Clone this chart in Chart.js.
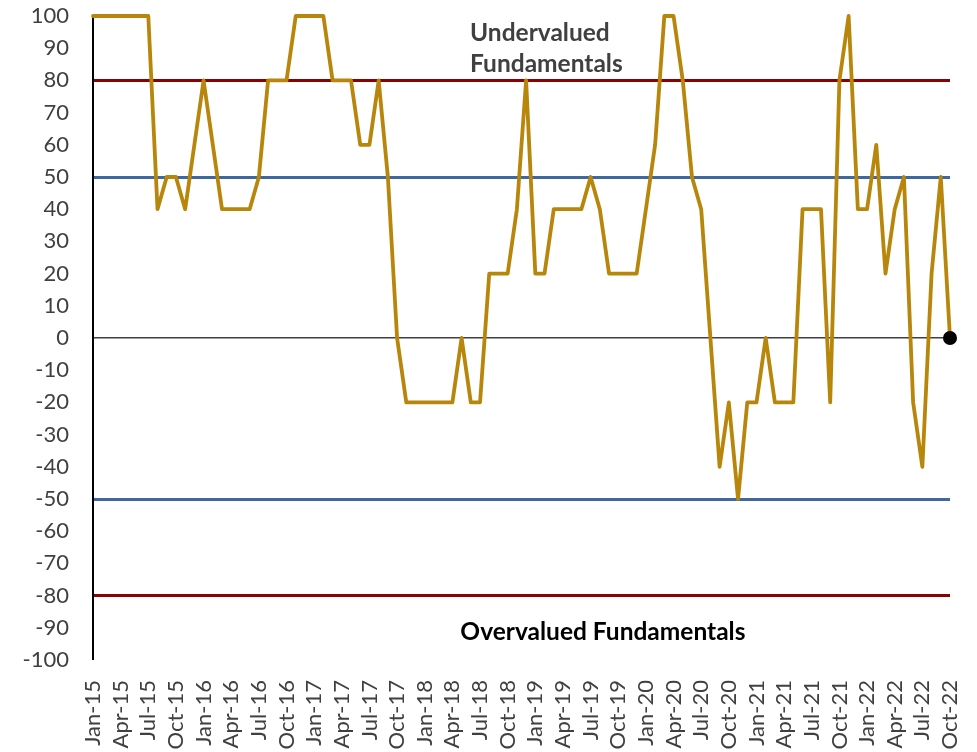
<!DOCTYPE html>
<html>
<head>
<meta charset="utf-8">
<script src="https://cdn.jsdelivr.net/npm/chart.js@4/dist/chart.umd.min.js"></script>
<style>
  html, body { margin: 0; padding: 0; background: #ffffff; }
  #wrap { width: 977px; height: 752px; position: relative; }
</style>
</head>
<body>
<div id="wrap"><canvas id="c" width="977" height="752"></canvas></div>
<script>
// ---- Data ----
const monthNames = ["Jan","Feb","Mar","Apr","May","Jun","Jul","Aug","Sep","Oct","Nov","Dec"];
const years = ["15","16","17","18","19","20","21","22"];
const lastMonthLabel = "Oct-22";

// Monthly score, Jan-15 .. Oct-22
const scores = [
  100,100,100,100,100,100,100,40,50,50,40,60,          // 2015
  80,60,40,40,40,40,50,80,80,80,100,100,               // 2016
  100,100,80,80,80,60,60,80,50,0,-20,-20,              // 2017
  -20,-20,-20,-20,0,-20,-20,20,20,20,40,80,            // 2018
  20,20,40,40,40,40,50,40,20,20,20,20,                 // 2019
  40,60,100,100,80,50,40,0,-40,-20,-50,-20,            // 2020
  -20,0,-20,-20,-20,40,40,40,-20,80,100,40,            // 2021
  40,60,20,40,50,-20,-40,20,50,0                       // 2022
];

// Threshold lines
const upperExtreme = 80;
const upperBand = 50;
const lowerBand = -50;
const lowerExtreme = -80;
const zeroLine = 0;

const yTickStep = 10;
const yMin = -100, yMax = 100;

const topLabelLines = ["Undervalued", "Fundamentals"];
const bottomLabel = "Overvalued Fundamentals";

// build category labels
const categories = [];
outer:
for (const y of years) {
  for (const m of monthNames) {
    const lab = m + "-" + y;
    categories.push(lab);
    if (lab === lastMonthLabel) break outer;
  }
}

const RED = "#8B0000";
const BLUE = "#3F67A0";
const GOLD = "#B8860B";
const AXIS_TXT = "#404040";
const FONT = "Lato, 'Noto Sans', sans-serif";

const annotPlugin = {
  id: "annot",
  afterDatasetsDraw(chart) {
    const { ctx, chartArea, scales } = chart;
    const w = chartArea.right - chartArea.left;
    ctx.save();
    ctx.font = "bold 24.5px " + FONT;
    ctx.textBaseline = "middle";
    ctx.textAlign = "left";
    ctx.fillStyle = "#404040";
    const xL = chartArea.left + w * 0.440;
    ctx.fillText(topLabelLines[0], xL, scales.y.getPixelForValue(94.6));
    ctx.fillText(topLabelLines[1], xL, scales.y.getPixelForValue(85.0));
    ctx.textAlign = "center";
    ctx.fillStyle = "#000000";
    ctx.fillText(bottomLabel, chartArea.left + w * 0.595, scales.y.getPixelForValue(-91.2));
    ctx.restore();
  }
};

function gridColor(v) {
  if (v === upperExtreme || v === lowerExtreme) return RED;
  if (v === upperBand || v === lowerBand) return BLUE;
  if (v === zeroLine) return "#404040";
  return "rgba(0,0,0,0)";
}
function gridWidth(v) {
  if (v === upperExtreme || v === lowerExtreme || v === upperBand || v === lowerBand) return 3;
  if (v === zeroLine) return 1.5;
  return 0;
}

const lastIdx = scores.length - 1;

new Chart(document.getElementById("c"), {
  type: "line",
  data: {
    labels: categories,
    datasets: [{
      data: scores,
      borderColor: GOLD,
      borderWidth: 3.8,
      tension: 0,
      clip: false,
      borderJoinStyle: "round",
      borderCapStyle: "round",
      pointRadius: (ctx) => ctx.dataIndex === lastIdx ? 7 : 0,
      pointHoverRadius: (ctx) => ctx.dataIndex === lastIdx ? 7 : 0,
      pointBackgroundColor: "#000000",
      pointBorderColor: "#000000",
      pointBorderWidth: 0
    }]
  },
  options: {
    responsive: false,
    animation: false,
    events: [],
    layout: { padding: { top: 16, right: 27, left: 0, bottom: 0 } },
    plugins: { legend: { display: false }, tooltip: { enabled: false } },
    scales: {
      x: {
        type: "category",
        grid: { display: false, drawTicks: false },
        border: { display: false },
        ticks: {
          autoSkip: false,
          maxRotation: 90,
          minRotation: 90,
          padding: 20,
          color: AXIS_TXT,
          font: { family: FONT, size: 22 },
          callback: function (val, idx) { return idx % 3 === 0 ? this.getLabelForValue(val) : ""; }
        },
        afterFit: (s) => { s.height = 92; s.paddingLeft = 0; s.paddingRight = 0; s.paddingTop = 0; s.paddingBottom = 0; }
      },
      y: {
        min: yMin, max: yMax,
        grid: {
          drawTicks: false,
          color: (c) => gridColor(c.tick.value),
          lineWidth: (c) => gridWidth(c.tick.value)
        },
        border: { display: true, color: "#000000", width: 2 },
        ticks: {
          stepSize: yTickStep,
          padding: 24,
          color: AXIS_TXT,
          font: { family: FONT, size: 22 }
        },
        afterFit: (s) => { s.width = 93; s.paddingLeft = 0; s.paddingRight = 0; s.paddingTop = 0; s.paddingBottom = 0; }
      }
    }
  },
  plugins: [annotPlugin]
});
</script>
</body>
</html>
